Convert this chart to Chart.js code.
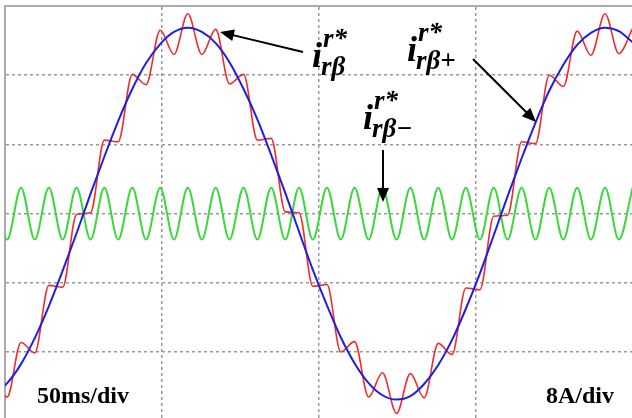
<!DOCTYPE html>
<html>
<head>
<meta charset="utf-8">
<script src="https://cdn.jsdelivr.net/npm/chart.js@4.4.1/dist/chart.umd.min.js"></script>
<style>
html, body { margin: 0; padding: 0; background: #fff; }
canvas { display: block; }
</style>
</head>
<body>
<canvas id="scopeChart" width="632" height="418"></canvas>
<script>
// samples every half period of the ripple (ms)
const timeMs = [-3.8, 0.7, 5.1, 9.5, 14.0, 18.4, 22.8, 27.3, 31.7, 36.1, 40.6, 45.0, 49.5, 53.9, 58.3, 62.8,
    67.2, 71.6, 76.1, 80.5, 84.9, 89.4, 93.8, 98.2, 102.7, 107.1, 111.5, 116.0, 120.4, 124.9, 129.3, 133.7,
    138.2, 142.6, 147.0, 151.5, 155.9, 160.3, 164.8, 169.2, 173.6, 178.1, 182.5, 186.9, 191.4, 195.8, 200.2];

// i_rβ+* (blue), A
const iPos = [-21.0, -19.6, -17.4, -14.4, -10.7, -6.6, -2.3, 2.3, 6.6, 10.7, 14.4, 17.4, 19.6, 21.0, 21.5, 21.0,
    19.7, 17.5, 14.4, 10.9, 6.8, 2.4, -2.1, -6.5, -10.6, -14.3, -17.3, -19.6, -21.0, -21.5, -21.1, -19.7,
    -17.5, -14.6, -11.0, -6.9, -2.5, 2.0, 6.4, 10.5, 14.2, 17.2, 19.5, 20.9, 21.5, 21.1, 19.8];

// i_rβ* (red), A
const iRef = [-18.4, -21.2, -14.9, -16.1, -8.3, -8.5, -0.1, 0.1, 8.5, 8.3, 16.1, 14.9, 21.2, 18.4, 23.1, 18.4,
    21.3, 15.0, 16.1, 8.5, 8.7, 0.2, 0.1, -8.4, -8.2, -16.0, -14.8, -21.2, -18.4, -23.1, -18.5, -21.3,
    -15.0, -16.3, -8.6, -8.8, -0.3, -0.2, 8.3, 8.1, 16.0, 14.7, 21.1, 18.3, 23.1, 18.5, 21.4];

// i_rβ-* (green), A
const iNeg = [3.0, -3.0, 3.0, -3.0, 3.0, -3.0, 3.0, -3.0, 3.0, -3.0, 3.0, -3.0, 3.0, -3.0, 3.0, -3.0,
    3.0, -3.0, 3.0, -3.0, 3.0, -3.0, 3.0, -3.0, 3.0, -3.0, 3.0, -3.0, 3.0, -3.0, 3.0, -3.0,
    3.0, -3.0, 3.0, -3.0, 3.0, -3.0, 3.0, -3.0, 3.0, -3.0, 3.0, -3.0, 3.0, -3.0, 3.0];

const xTicks = [50, 100, 150];
const yTicks = [16, 8, 0, -8, -16];

const pts = vals => timeMs.map((t, i) => ({x: t, y: vals[i]}));

const serif = '"Liberation Serif", "Times New Roman", serif';

function drawArrow(ctx, x1, y1, x2, y2) {
    const a = Math.atan2(y2 - y1, x2 - x1);
    const len = 14, half = 6;
    ctx.beginPath();
    ctx.moveTo(x1, y1);
    ctx.lineTo(x2 - Math.cos(a) * len * 0.8, y2 - Math.sin(a) * len * 0.8);
    ctx.stroke();
    ctx.beginPath();
    ctx.moveTo(x2, y2);
    ctx.lineTo(x2 - Math.cos(a) * len + Math.sin(a) * half, y2 - Math.sin(a) * len - Math.cos(a) * half);
    ctx.lineTo(x2 - Math.cos(a) * len - Math.sin(a) * half, y2 - Math.sin(a) * len + Math.cos(a) * half);
    ctx.closePath();
    ctx.fill();
}

function drawCurrentLabel(ctx, x, y, sub) {
    ctx.font = 'bold italic 36px ' + serif;
    ctx.fillText('i', x, y);
    ctx.font = 'bold italic 27px ' + serif;
    ctx.fillText('r*', x + 11, y - 20);
    ctx.fillText(sub, x + 9, y + 8);
}

const annotations = {
    id: 'annotations',
    afterDraw(chart) {
        const ctx = chart.ctx;
        ctx.save();
        ctx.fillStyle = '#000';
        ctx.strokeStyle = '#000';
        ctx.lineWidth = 2;
        drawArrow(ctx, 303, 52, 220, 32);
        drawArrow(ctx, 473, 59, 536, 122);
        drawArrow(ctx, 383, 150, 383, 202);

        ctx.textBaseline = 'alphabetic';
        drawCurrentLabel(ctx, 312, 67, 'rβ');
        drawCurrentLabel(ctx, 407, 61, 'rβ+');
        drawCurrentLabel(ctx, 363, 129, 'rβ\u2212');

        ctx.font = 'bold 24px ' + serif;
        ctx.fillText('50ms/div', 37, 403);
        ctx.fillText('8A/div', 546, 403);
        ctx.restore();
    }
};

const grid = {
    color: '#999999',
    lineWidth: 1.5,
    drawTicks: false
};

new Chart(document.getElementById('scopeChart').getContext('2d'), {
    type: 'line',
    data: {
        datasets: [
            { label: 'i_rβ+*', data: pts(iPos), borderColor: '#1f1fe0', borderWidth: 2 },
            { label: 'i_rβ*', data: pts(iRef), borderColor: '#f02c2c', borderWidth: 1.6 },
            { label: 'i_rβ-*', data: pts(iNeg), borderColor: '#3ad83a', borderWidth: 2 }
        ]
    },
    options: {
        responsive: false,
        animation: false,
        events: [],
        layout: { padding: { left: 5, top: 6, right: 0, bottom: 0 } },
        elements: {
            point: { radius: 0 },
            line: { cubicInterpolationMode: 'monotone', fill: false }
        },
        scales: {
            x: {
                type: 'linear',
                position: 'top',
                min: 0,
                max: 200,
                afterBuildTicks: axis => { axis.ticks = xTicks.map(v => ({value: v})); },
                ticks: { display: false },
                grid: grid,
                border: { display: true, color: '#ababab', width: 2, dash: [3, 3] }
            },
            y: {
                type: 'linear',
                min: -23.63,
                max: 24,
                afterBuildTicks: axis => { axis.ticks = yTicks.map(v => ({value: v})); },
                ticks: { display: false },
                grid: grid,
                border: { display: true, color: '#ababab', width: 2, dash: [3, 3] }
            }
        },
        plugins: {
            legend: { display: false },
            tooltip: { enabled: false }
        }
    },
    plugins: [annotations]
});
</script>
</body>
</html>
